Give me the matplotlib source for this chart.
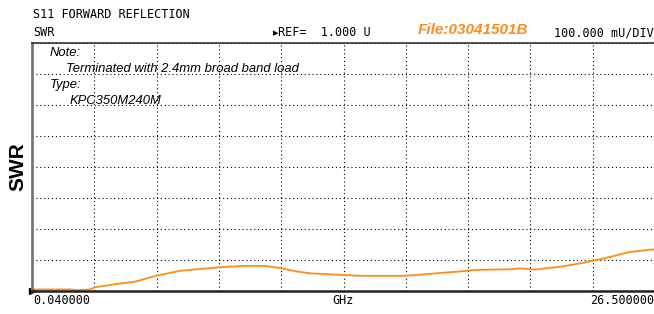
import matplotlib.pyplot as plt
import numpy as np

# SWR trace
freq_ghz = [0.04, 1.65, 1.95, 2.50, 2.72, 3.57, 4.41, 5.35, 6.33, 7.17, 8.24,
            9.09, 9.94, 10.57, 11.21, 11.85, 12.91, 13.97, 15.88, 16.73, 17.37,
            18.22, 18.85, 20.34, 20.77, 21.40, 21.83, 22.46, 23.31, 23.91,
            24.59, 25.44, 26.50]
swr = [1.005, 1.005, 1.003, 1.005, 1.012, 1.022, 1.030, 1.050, 1.065, 1.071,
       1.078, 1.081, 1.081, 1.074, 1.064, 1.057, 1.053, 1.049, 1.049, 1.054,
       1.058, 1.063, 1.068, 1.070, 1.073, 1.069, 1.073, 1.078, 1.089, 1.098,
       1.110, 1.126, 1.135]

f_start, f_stop = 0.04, 26.5
ref, per_div = 1.0, 0.1
n_xdiv, n_ydiv = 10, 8

orange = '#FF8C1A'
mono = 'DejaVu Sans Mono'

fig = plt.figure(figsize=(6.54, 3.14), dpi=100)
ax = fig.add_axes([32 / 654, 1 - 291 / 314, 623 / 654, 248 / 314])

ax.plot(freq_ghz, swr, color=orange, lw=1.3)
ax.set_xlim(f_start, f_stop)
ax.set_ylim(ref, ref + n_ydiv * per_div)
ax.set_xticks(np.linspace(f_start, f_stop, n_xdiv + 1))
ax.set_yticks(np.linspace(ref, ref + n_ydiv * per_div, n_ydiv + 1))
ax.tick_params(length=0, labelbottom=False, labelleft=False)
ax.grid(True, color='black', linestyle=(0, (1, 2.5)), linewidth=0.8)

ax.spines['right'].set_visible(False)
ax.spines['left'].set_color('#777777')
ax.spines['left'].set_linewidth(2)
ax.spines['bottom'].set_color('#222222')
ax.spines['bottom'].set_linewidth(1.8)
ax.spines['top'].set_color('#333333')
ax.spines['top'].set_linewidth(1.2)

# reference marker on the left edge
ax.plot([0], [ref], marker='>', color='black', markersize=5, clip_on=False,
        transform=ax.get_yaxis_transform())

ax.set_ylabel('SWR', fontsize=15, fontweight='bold', family='Liberation Sans',
              labelpad=3)

# header texts
fig.text(33 / 654, 1 - 15 / 314, 'S11 FORWARD REFLECTION', family=mono,
         fontsize=8.5, va='center')
fig.text(33 / 654, 1 - 33 / 314, 'SWR', family=mono, fontsize=8.5, va='center')
fig.text(278 / 654, 1 - 33 / 314, 'REF=  1.000 U', family=mono, fontsize=8.5,
         va='center')
fig.text(273 / 654, 1 - 33 / 314, '▶', family='DejaVu Sans', fontsize=5,
         va='center')
fig.text(418 / 654, 1 - 30 / 314, 'File:03041501B', color=orange,
         family='Liberation Sans', style='italic',
         fontweight='bold', fontsize=11, va='center')
fig.text(654 / 654, 1 - 33 / 314, '100.000 mU/DIV', family=mono, fontsize=8.5,
         va='center', ha='right')

# footer texts
fig.text(33 / 654, 1 - 300 / 314, '0.040000', family=mono, fontsize=8.5,
         va='center')
fig.text(343 / 654, 1 - 300 / 314, 'GHz', family=mono, fontsize=8.5,
         va='center', ha='center')
fig.text(654 / 654, 1 - 300 / 314, '26.500000', family=mono, fontsize=8.5,
         va='center', ha='right')

# note block
note = dict(family='Liberation Sans', style='italic', fontsize=9.4, va='center')
fig.text(50 / 654, 1 - 53 / 314, 'Note:', **note)
fig.text(66 / 654, 1 - 69 / 314, 'Terminated with 2.4mm broad band load', **note)
fig.text(50 / 654, 1 - 85 / 314, 'Type:', **note)
fig.text(70 / 654, 1 - 101 / 314, 'KPC350M240M', **note)

fig.savefig('out.png', dpi=100)
